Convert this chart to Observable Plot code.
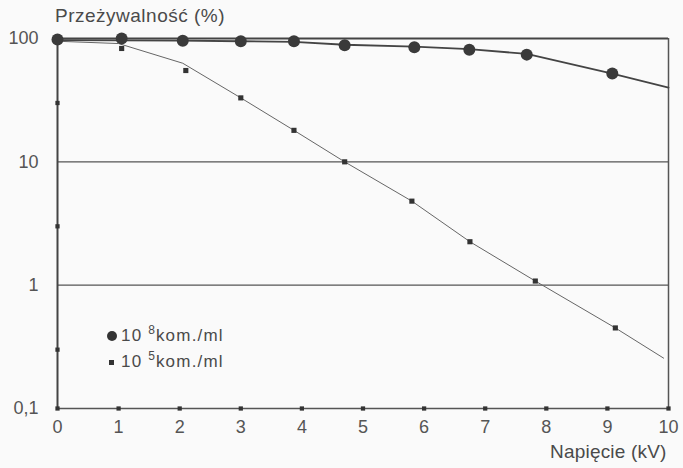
<!DOCTYPE html>
<html>
<head>
<meta charset="utf-8">
<script src="https://cdn.jsdelivr.net/npm/d3@7"></script>
<script src="https://cdn.jsdelivr.net/npm/@observablehq/plot@0.6"></script>
<style>
  html, body { margin: 0; padding: 0; background: #fafafa; }
  #wrap { position: relative; width: 683px; height: 468px; font-family: "Liberation Sans", Arial, sans-serif; color: #4a4a4a; }
  .lbl { position: absolute; white-space: nowrap; }
  #title { left: 55px; top: 5px; font-size: 19px; letter-spacing: 0.5px; }
  #xlabel { left: 550px; top: 441px; font-size: 19px; letter-spacing: 0.2px; }
  .leg { position: absolute; left: 121px; font-size: 17px; letter-spacing: 1.2px; line-height: 20px; white-space: nowrap; }
  .leg .sp { display: inline-block; font-size: 12px; position: relative; top: -7px; letter-spacing: 0; margin-right: 1px; }
  .mk { position: absolute; background: #333; }
</style>
</head>
<body>
<div id="wrap">
  <div id="chart"></div>
  <div class="lbl" id="title">Przeżywalność (%)</div>
  <div class="lbl" id="xlabel">Napięcie (kV)</div>
  <div class="mk" style="left:107px; top:331px; width:10px; height:10px; border-radius:50%;"></div>
  <div class="leg" style="top:326px;">10 <span class="sp">8</span>kom./ml</div>
  <div class="mk" style="left:109px; top:360px; width:5px; height:5px;"></div>
  <div class="leg" style="top:352px;">10 <span class="sp">5</span>kom./ml</div>
</div>
<script>
// Axis ticks
const xTicks = [0, 1, 2, 3, 4, 5, 6, 7, 8, 9, 10];
const yTicks = [0.1, 1, 10, 100];
const yTickLabels = ["0,1", "1", "10", "100"];
const yMinorTicks = [0.3, 3, 30];
const gridValues = [1, 10];

// 10^8 kom./ml (circles)
const highX = [0, 1.05, 2.05, 3.0, 3.87, 4.7, 5.84, 6.74, 7.68, 9.08];
const highY = [98, 100, 96, 95, 95, 88, 85, 81, 74, 52];
// fitted curve for 10^8
const highFitX = [0, 2, 3, 3.87, 4.7, 5.84, 6.74, 7.68, 9.08, 10];
const highFitY = [97, 96, 95, 94, 89, 86, 82, 75, 52, 40];

// 10^5 kom./ml (squares)
const lowX = [1.05, 2.1, 3.0, 3.87, 4.7, 5.8, 6.75, 7.82, 9.13];
const lowY = [83, 55, 33, 18, 10, 4.8, 2.25, 1.08, 0.45];
// fitted curve for 10^5
const lowFitX = [0, 1.0, 2.05, 3.0, 3.87, 4.7, 5.8, 6.75, 7.82, 9.13, 9.92];
const lowFitY = [95, 91, 63, 33, 18, 10, 4.8, 2.25, 1.08, 0.45, 0.256];

const high = highX.map((x, i) => ({x, y: highY[i]}));
const highFit = highFitX.map((x, i) => ({x, y: highFitY[i]}));
const low = lowX.map((x, i) => ({x, y: lowY[i]}));
const lowFit = lowFitX.map((x, i) => ({x, y: lowFitY[i]}));

const dark = "#333";
const chart = Plot.plot({
  width: 683,
  height: 468,
  marginLeft: 57,
  marginRight: 15,
  marginTop: 38,
  marginBottom: 60,
  style: {background: "transparent", fontFamily: "'Liberation Sans', Arial, sans-serif", color: "#4a4a4a"},
  x: {domain: [0, 10]},
  y: {type: "log", domain: [0.1, 100]},
  marks: [
    Plot.ruleY(gridValues, {stroke: "#555", strokeWidth: 1.3}),
    Plot.ruleY([yTicks[3]], {stroke: "#444", strokeWidth: 2}),
    Plot.ruleY([yTicks[0]], {stroke: "#555", strokeWidth: 1.5}),
    Plot.ruleX([xTicks[0]], {stroke: "#444", strokeWidth: 2}),
    Plot.ruleX([xTicks[10]], {stroke: "#555", strokeWidth: 1.5}),
    Plot.line(lowFit, {x: "x", y: "y", stroke: "#666", strokeWidth: 1}),
    Plot.line(highFit, {x: "x", y: "y", stroke: "#444", strokeWidth: 1.8}),
    Plot.dot(high, {x: "x", y: "y", r: 6, fill: "#3a3a3a", stroke: "none"}),
    Plot.dot(low, {x: "x", y: "y", symbol: "square", r: 2.9, fill: dark, stroke: "none"}),
    Plot.dot(xTicks, {x: d => d, y: () => yTicks[0], symbol: "square", r: 2.4, fill: dark, stroke: "none"}),
    Plot.dot(yMinorTicks, {x: () => xTicks[0], y: d => d, symbol: "square", r: 2.4, fill: dark, stroke: "none"}),
    Plot.axisX(xTicks, {tickSize: 0, tickPadding: 12, fontSize: 18, fill: "#555", label: null}),
    Plot.axisY(yTicks, {tickSize: 0, tickPadding: 19, fontSize: 18, fill: "#555", label: null,
      tickFormat: d => yTickLabels[yTicks.indexOf(d)]})
  ]
});
document.getElementById("chart").appendChild(chart);
</script>
</body>
</html>
